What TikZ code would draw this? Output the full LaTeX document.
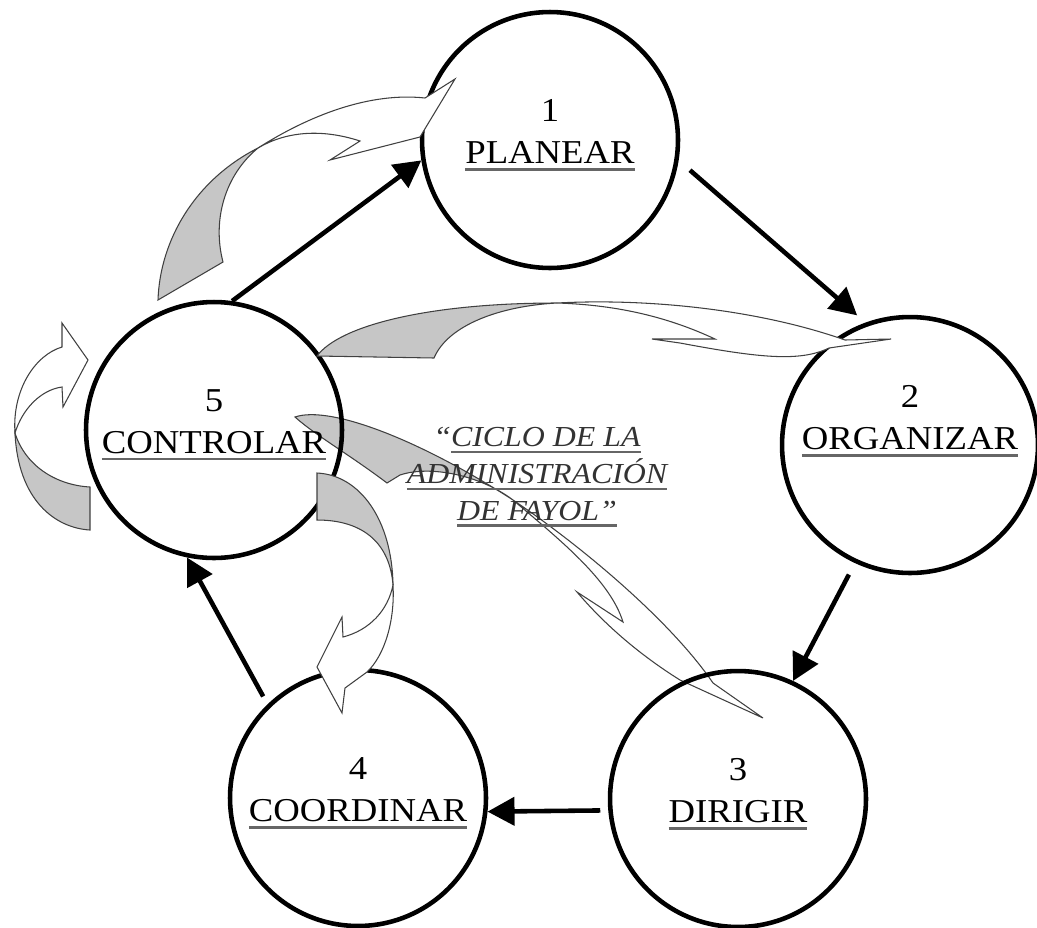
\documentclass[tikz,border=0pt]{standalone}
\usepackage{fontspec}
\setmainfont{Liberation Serif}[FakeStretch=1.1]
\usetikzlibrary{arrows.meta}
\definecolor{twistgray}{RGB}{198,198,198}
\newsavebox\ulbox
\newcommand\ulname[2][1.5pt]{\sbox\ulbox{#2}\rlap{\color{black!60}\rule[-4pt]{\wd\ulbox}{#1}}\usebox\ulbox}
\newcommand\stagetext[3][9.8pt]{#2\\\ulname{#3}\rule[-#1]{0pt}{1pt}}

\begin{document}
\begin{tikzpicture}[x=0.02cm, y=-0.02cm,
    stage/.style={circle, draw, line width=2.6pt, minimum size=5.12cm, inner sep=0pt, align=center, font=\fontsize{19}{24}\selectfont},
    flow/.style={-{Triangle[length=0.54cm, width=0.56cm]}, line width=2.6pt},
    back/.style={fill=twistgray, draw=black!75, line width=0.6pt},
    front/.style={fill=white, draw=black!75, line width=0.6pt}]
\useasboundingbox (0,0) rectangle (1037,927);
% twisted arrow that runs under the title
\draw[back] (295,417) .. controls (330,405) and (420,440) .. (513,500) .. controls (480,475) and (430,465) .. (400,475) -- (387,483) .. controls (350,455) and (315,435) .. (295,417) -- cycle;
\draw[front] (513,500) .. controls (580,545) and (670,620) .. (713,683) -- (763,718) -- (680,680) .. controls (640,655) and (605,625) .. (577,592) -- (623,622) .. controls (610,580) and (560,540) .. (513,500) -- cycle;

\node[stage] (plan) at (550,140) {\stagetext{1}{PLANEAR}};
\node[stage] (org) at (910,445) {\stagetext[31pt]{2}{ORGANIZAR}};
\node[stage] (dir) at (738,799) {\stagetext{3}{DIRIGIR}};
\node[stage] (coord) at (358,798) {\stagetext{4}{COORDINAR}};
\node[stage] (ctrl) at (214,430) {\stagetext{5}{CONTROLAR}};
\node[align=center, text=black!80, font=\itshape\fontsize{16.5}{21}\selectfont] (cycle) at (537,477)
    {“\ulname{CICLO DE LA}\\\ulname{ADMINISTRACIÓN}\\\ulname{DE FAYOL”}};

% twisted arrows
\draw[back] (158,300) .. controls (160,240) and (195,180) .. (258,148) .. controls (225,175) and (212,220) .. (223,262) -- cycle;
\draw[front] (258,148) .. controls (310,115) and (370,92) .. (425,98) -- (455,79) -- (420,137) -- (330,160) -- (360,141) .. controls (320,128) and (285,132) .. (258,148) -- cycle;
\draw[back] (317,356) .. controls (340,325) and (430,303) .. (557,303) .. controls (500,306) and (448,325) .. (434,358) -- cycle;
\draw[front] (557,303) .. controls (650,298) and (760,310) .. (845,340) -- (891,339) -- (829,348) .. controls (800,362) and (760,358) .. (680,343) -- (652,339) -- (715,339) .. controls (670,318) and (620,305) .. (557,303) -- cycle;
\draw[back] (317,473) .. controls (360,475) and (392,520) .. (393,585) .. controls (390,545) and (365,520) .. (317,520) -- cycle;
\draw[front] (393,585) .. controls (388,610) and (370,630) .. (343,637) -- (342,617) -- (317,667) -- (342,713) -- (345,688) -- (367,672) .. controls (385,655) and (395,620) .. (393,585) -- cycle;
\draw[back] (90,530) .. controls (55,528) and (18,500) .. (15,433) .. controls (25,465) and (55,485) .. (90,487) -- cycle;
\draw[front] (15,433) .. controls (12,390) and (35,355) .. (62,347) -- (62,323) -- (88,360) -- (63,407) -- (62,387) .. controls (40,390) and (22,410) .. (15,433) -- cycle;

\draw[flow] (ctrl.82) -- (plan.189);
\draw[flow, shorten <=0.3cm, shorten >=0.22cm] (plan.-9) -- (org.110);
\draw[flow, shorten <=0.26cm] (org.245) -- (dir.65);
\draw[flow, shorten <=0.16cm] (dir.185) -- (coord.-6);
\draw[flow, shorten <=0.18cm] (coord.134) -- (ctrl.258);
\end{tikzpicture}
\end{document}
